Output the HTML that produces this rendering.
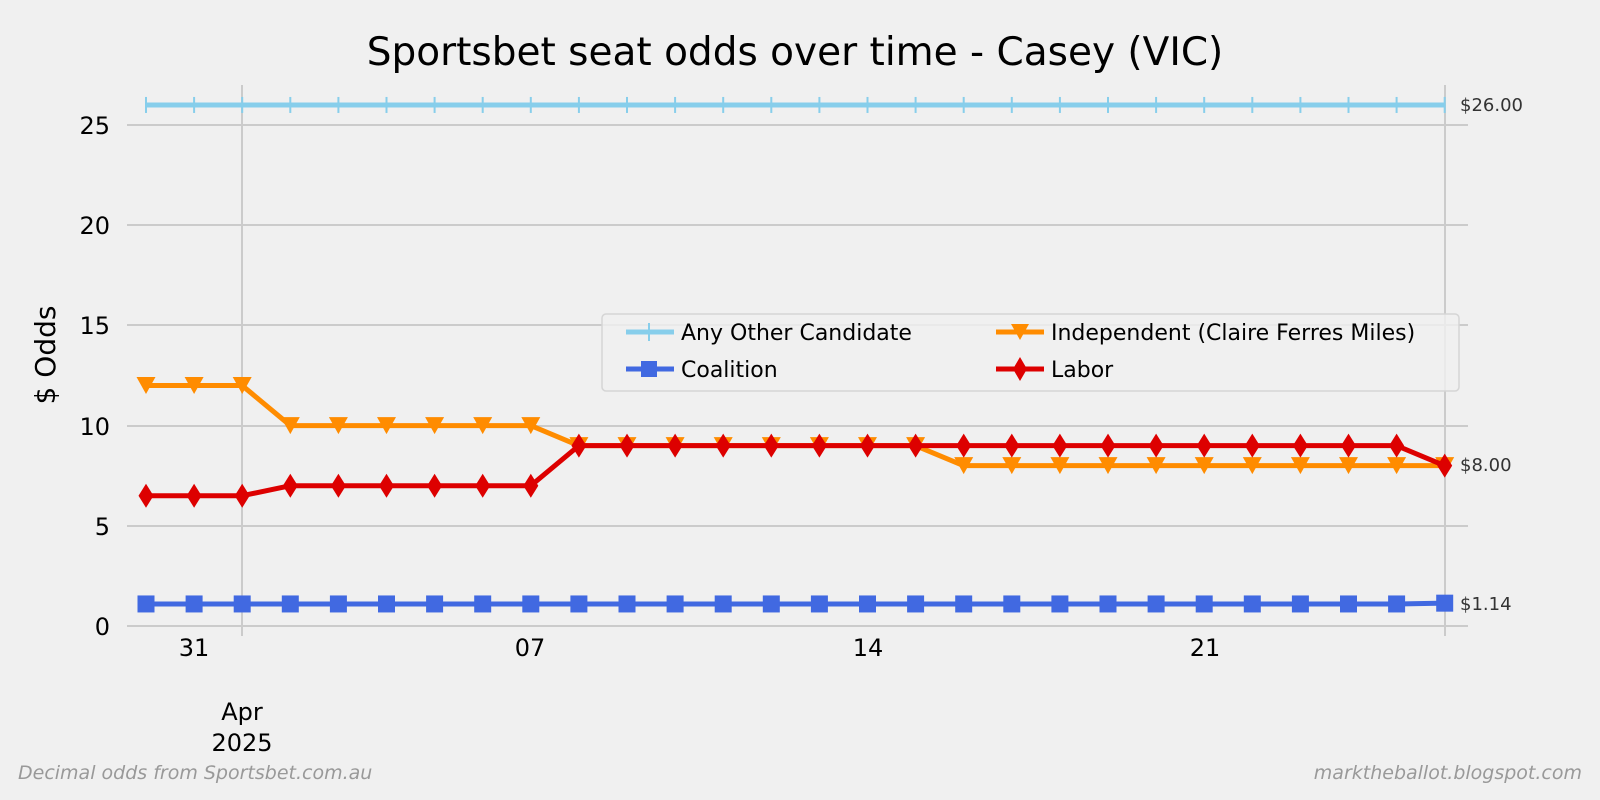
<!DOCTYPE html>
<html><head><meta charset="utf-8"><style>
html,body{margin:0;padding:0;background:#f0f0f0;}
svg{display:block;font-family:"DejaVu Sans","Liberation Sans",sans-serif;}
</style></head><body>
<svg id="s" width="1600" height="800" viewBox="0 0 1600 800" xmlns="http://www.w3.org/2000/svg">
<rect width="1600" height="800" fill="#f0f0f0"/>
<text x="795" y="65" font-size="39" text-anchor="middle" fill="#000">Sportsbet seat odds over time - Casey (VIC)</text>
<g stroke="#cbcbcb" stroke-width="2">
<line x1="127" y1="626" x2="1468" y2="626"/>
<line x1="127" y1="526" x2="1468" y2="526"/>
<line x1="127" y1="426" x2="1468" y2="426"/>
<line x1="127" y1="325" x2="1468" y2="325"/>
<line x1="127" y1="225" x2="1468" y2="225"/>
<line x1="127" y1="125" x2="1468" y2="125"/>
<line x1="242" y1="85" x2="242" y2="636"/>
<line x1="1445" y1="85" x2="1445" y2="636"/>
</g>
<g font-size="24" fill="#000" text-anchor="end">
<text x="110" y="635">0</text><text x="110" y="535">5</text><text x="110" y="435">10</text>
<text x="110" y="334">15</text><text x="110" y="234">20</text><text x="110" y="134">25</text>
</g>
<g font-size="24" fill="#000" text-anchor="middle">
<text x="194" y="656">31</text><text x="530" y="656">07</text><text x="868" y="656">14</text><text x="1205" y="656">21</text>
<text x="242" y="720">Apr</text><text x="242" y="751">2025</text>
</g>
<text transform="translate(55,355) rotate(-90)" font-size="28" text-anchor="middle">$ Odds</text>
<g id="series"></g>
<g font-size="18" fill="#333">
<text x="1460" y="111">$26.00</text><text x="1460" y="471">$8.00</text><text x="1460" y="610">$1.14</text>
</g>
<g>
<rect x="602" y="314" width="857" height="77" rx="4" fill="#f0f0f0" fill-opacity="0.8" stroke="#d5d5d5" stroke-width="1.5"/>
<line x1="626" y1="332" x2="674" y2="332" stroke="#87ceeb" stroke-width="5"/><line x1="649" y1="323" x2="649" y2="341" stroke="#87ceeb" stroke-width="2"/>
<line x1="626" y1="369" x2="674" y2="369" stroke="#4169e1" stroke-width="5"/><rect x="641" y="361" width="16" height="16" fill="#4169e1"/>
<line x1="996" y1="332" x2="1044" y2="332" stroke="#ff8c00" stroke-width="5"/><polygon points="1011,324 1029,324 1020,340" fill="#ff8c00"/>
<line x1="996" y1="369" x2="1044" y2="369" stroke="#dd0000" stroke-width="5"/><polygon points="1020,357 1027,369 1020,381 1013,369" fill="#dd0000"/>
<g font-size="22" fill="#000">
<text x="681" y="340">Any Other Candidate</text><text x="681" y="377">Coalition</text>
<text x="1051" y="340">Independent (Claire Ferres Miles)</text><text x="1051" y="377">Labor</text>
</g></g>
<text x="18" y="779" font-size="19" fill="#999" font-style="italic">Decimal odds from Sportsbet.com.au</text>
<text x="1582" y="779" font-size="19" fill="#999" font-style="italic" text-anchor="end">marktheballot.blogspot.com</text>
</svg>
<script>
var g=document.getElementById('series'),NS='http://www.w3.org/2000/svg';
function X(i){return 146+i*48.1;}function Y(v){return 626-v*20.04;}
function el(t,a){var e=document.createElementNS(NS,t);for(var k in a)e.setAttribute(k,a[k]);g.appendChild(e);return e;}
var any=[],coa=[],ind=[],lab=[];
for(var i=0;i<28;i++){any.push(26);coa.push(i==27?1.14:1.1);
ind.push(i<3?12:i<9?10:i<17?9:8);lab.push(i<3?6.5:i<9?7:i<27?9:8);}
function line(d,c){el('polyline',{points:d.map(function(v,i){return X(i)+','+Y(v)}).join(' '),fill:'none',stroke:c,'stroke-width':5,'stroke-linejoin':'round'});}
line(any,'#87ceeb');any.forEach(function(v,i){el('line',{x1:X(i),x2:X(i),y1:Y(v)-8,y2:Y(v)+8,stroke:'#87ceeb','stroke-width':2});});
line(coa,'#4169e1');coa.forEach(function(v,i){el('rect',{x:X(i)-8.5,y:Y(v)-8.5,width:17,height:17,fill:'#4169e1'});});
line(ind,'#ff8c00');ind.forEach(function(v,i){var x=X(i),y=Y(v);el('polygon',{points:(x-9.5)+','+(y-8.5)+' '+(x+9.5)+','+(y-8.5)+' '+x+','+(y+8.5),fill:'#ff8c00'});});
line(lab,'#dd0000');lab.forEach(function(v,i){var x=X(i),y=Y(v);el('polygon',{points:x+','+(y-12)+' '+(x+7.5)+','+y+' '+x+','+(y+12)+' '+(x-7.5)+','+y,fill:'#dd0000'});});
</script>
</body></html>
